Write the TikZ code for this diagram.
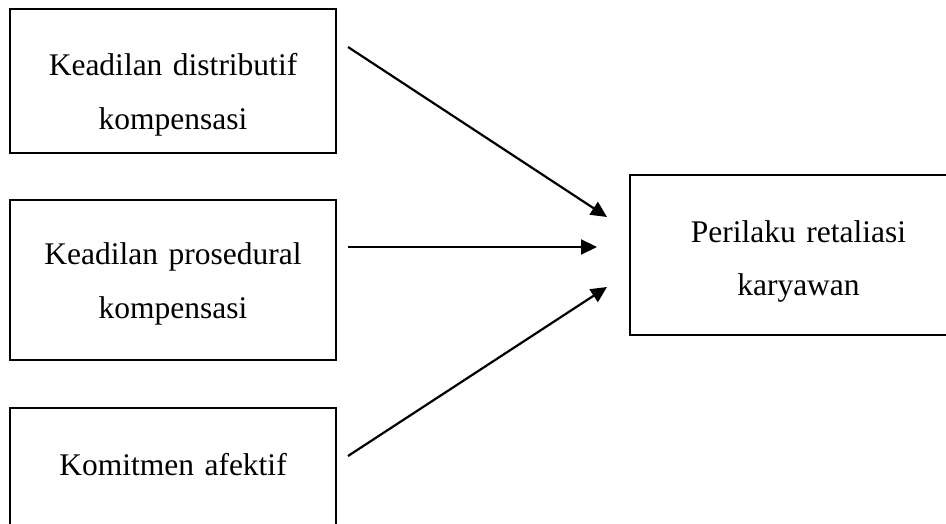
\documentclass[tikz,border=0pt]{standalone}
\usepackage{fontspec}
\setmainfont{Liberation Serif}
\usepackage{tikz}
\usetikzlibrary{positioning,arrows.meta}

\begin{document}
\begin{tikzpicture}[
    x=1pt, y=-1pt,
    block/.style={draw, line width=1.5pt, inner sep=0pt, outer sep=0pt, align=center,
        font=\fontsize{31.5}{54}\selectfont},
    arrow/.style={-{Triangle[length=16pt,width=15pt]}, line width=2.2pt},
    node distance=47pt
]
    \path[use as bounding box, clip] (0,0) rectangle (946,524);

    % Variabel bebas
    \node[block, anchor=north west, text width=326pt, text height=67pt, text depth=77pt] (kd) at (10,9) {Keadilan distributif\\kompensasi};
    \node[block, below=of kd, text width=326pt, text height=65pt, text depth=95pt] (kp) {Keadilan prosedural\\kompensasi};
    \node[block, below=48pt of kp, text width=326pt, text height=67pt, text depth=65pt] (ka) {Komitmen afektif};

    % Variabel terikat
    \node[block, right=294pt of kp, yshift=25pt, text width=337pt, text height=67pt, text depth=93pt] (pr) {Perilaku retaliasi\\karyawan};

    % Ujung panah
    \coordinate (a1) at ([xshift=12pt,yshift=-38pt]kd.north east);
    \coordinate (a2) at ([xshift=12pt,yshift=-47pt]kp.north east);
    \coordinate (a3) at ([xshift=12pt,yshift=-48pt]ka.north east);
    \coordinate (b1) at ([xshift=-23pt,yshift=38pt]pr.west);
    \coordinate (b2) at ([xshift=-33pt,yshift=8pt]pr.west);
    \coordinate (b3) at ([xshift=-23pt,yshift=-32pt]pr.west);

    \draw[arrow] (a1) -- (b1);
    \draw[arrow] (a2) -- (b2);
    \draw[arrow] (a3) -- (b3);
\end{tikzpicture}
\end{document}
